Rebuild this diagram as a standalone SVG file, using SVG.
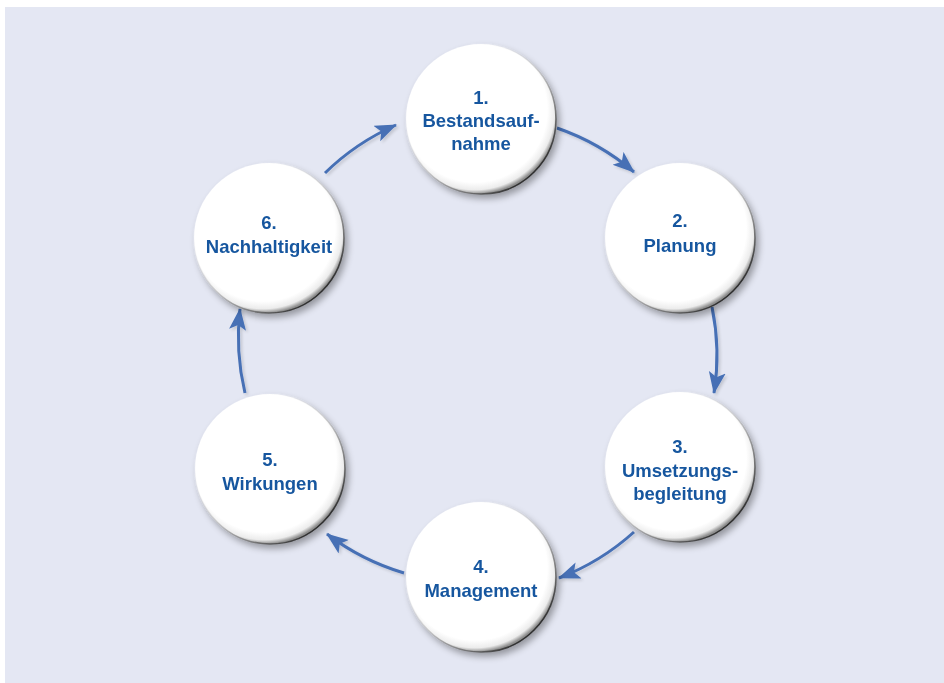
<svg xmlns="http://www.w3.org/2000/svg" width="944" height="683" viewBox="0 0 944 683">
<style>
.lbl{font-family:"Liberation Sans","DejaVu Sans",Arial,sans-serif;font-weight:bold;font-size:18.5px;fill:#17579f;text-anchor:middle}
.arr{fill:none;stroke:#4670b5;stroke-width:3;marker-end:url(#ah)}
</style>
<defs>
<radialGradient id="disc" cx="0.46" cy="0.44" r="0.56">
<stop offset="0" stop-color="#ffffff"/>
<stop offset="0.86" stop-color="#ffffff"/>
<stop offset="0.95" stop-color="#ececec"/>
<stop offset="1" stop-color="#8f8f8f"/>
</radialGradient>
<linearGradient id="rim" x1="0.2" y1="0.2" x2="0.85" y2="0.9">
<stop offset="0" stop-color="#ffffff" stop-opacity="0"/>
<stop offset="0.5" stop-color="#aaaaaa" stop-opacity="0.6"/>
<stop offset="1" stop-color="#222222"/>
</linearGradient>
<filter id="sh" x="-20%" y="-20%" width="150%" height="150%">
<feGaussianBlur in="SourceAlpha" stdDeviation="3.5"/>
<feOffset dx="3" dy="4" result="b"/>
<feComponentTransfer><feFuncA type="linear" slope="0.35"/></feComponentTransfer>
<feMerge><feMergeNode/><feMergeNode in="SourceGraphic"/></feMerge>
</filter>
<filter id="ash" x="-30%" y="-30%" width="160%" height="160%">
<feGaussianBlur in="SourceAlpha" stdDeviation="1.5"/>
<feOffset dx="2" dy="2"/>
<feComponentTransfer><feFuncA type="linear" slope="0.15"/></feComponentTransfer>
<feMerge><feMergeNode/><feMergeNode in="SourceGraphic"/></feMerge>
</filter>
<marker id="ah" markerUnits="userSpaceOnUse" markerWidth="24" markerHeight="20" refX="21" refY="8.5" orient="auto">
<path d="M0,0 L22,8.5 L0,17 L5,8.5 z" fill="#4670b5"/>
</marker>
<g id="circ">
<circle r="75" fill="url(#disc)" stroke="url(#rim)" stroke-width="1.6"/>
</g>
</defs>
<rect x="0" y="0" width="944" height="683" fill="#ffffff"/>
<rect x="5" y="7" width="939" height="676" fill="#e4e7f3"/>
<g id="connectors" filter="url(#ash)">
<path class="arr" d="M557,128 A240,240 0 0,1 634,172"/>
<path class="arr" d="M712,307 A240,240 0 0,1 714,393"/>
<path class="arr" d="M634,532 A240,240 0 0,1 559,578"/>
<path class="arr" d="M404,573 A240,240 0 0,1 327,534"/>
<path class="arr" d="M245,393 A240,240 0 0,1 240,309"/>
<path class="arr" d="M325,173 A240,240 0 0,1 396,125"/>
</g>
<g id="node1" filter="url(#sh)">
<use href="#circ" x="481" y="119"/>
<text class="lbl" x="481" y="104">1.</text>
<text class="lbl" x="481" y="127">Bestandsauf-</text>
<text class="lbl" x="481" y="150">nahme</text>
</g>
<g id="node2" filter="url(#sh)">
<use href="#circ" x="680" y="238"/>
<text class="lbl" x="680" y="227">2.</text>
<text class="lbl" x="680" y="252">Planung</text>
</g>
<g id="node3" filter="url(#sh)">
<use href="#circ" x="680" y="467"/>
<text class="lbl" x="680" y="453">3.</text>
<text class="lbl" x="680" y="477">Umsetzungs-</text>
<text class="lbl" x="680" y="500">begleitung</text>
</g>
<g id="node4" filter="url(#sh)">
<use href="#circ" x="481" y="577"/>
<text class="lbl" x="481" y="573">4.</text>
<text class="lbl" x="481" y="597">Management</text>
</g>
<g id="node5" filter="url(#sh)">
<use href="#circ" x="270" y="469"/>
<text class="lbl" x="270" y="466">5.</text>
<text class="lbl" x="270" y="490">Wirkungen</text>
</g>
<g id="node6" filter="url(#sh)">
<use href="#circ" x="269" y="238"/>
<text class="lbl" x="269" y="229">6.</text>
<text class="lbl" x="269" y="253">Nachhaltigkeit</text>
</g>
</svg>
